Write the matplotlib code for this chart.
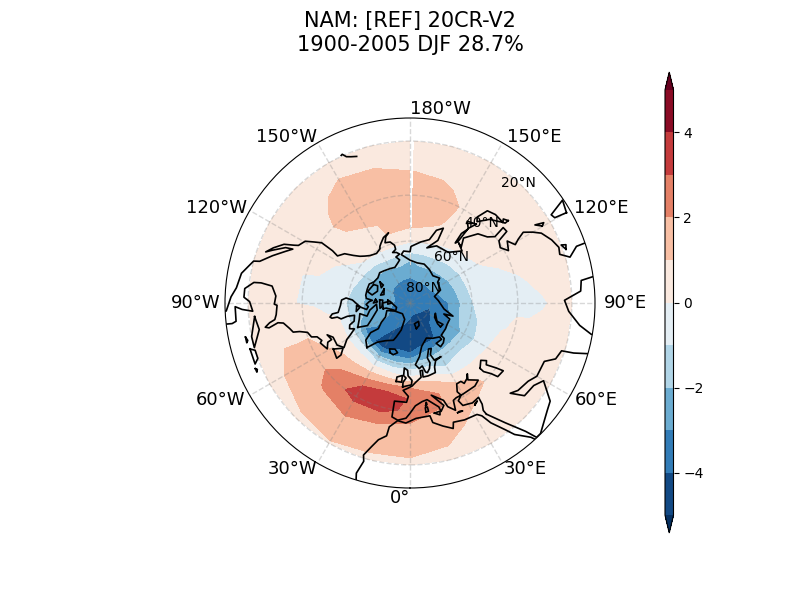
import numpy as np
import matplotlib
matplotlib.use("Agg")
import matplotlib.pyplot as plt

# field on a lat/lon grid
lons = [-180, -165, -150, -135, -120, -105, -90, -75, -60, -45, -30, -15,
        0, 15, 30, 45, 60, 75, 90, 105, 120, 135, 150, 165]
lats = [20, 30, 35, 40, 45, 50, 55, 60, 65, 70, 80, 90]
row_20 = [0.5, 0.6, 0.6, 0.5, 0.4, 0.4, 0.4, 0.6, 0.7, 0.8, 0.9, 0.8, 0.8, 0.7, 0.6, 0.4, 0.4, 0.3, 0.3, 0.3, 0.3, 0.3, 0.3, 0.4]
row_30 = [0.95, 1.1, 1.2, 0.8, 0.5, 0.3, 0.4, 0.9, 1.2, 1.5, 1.9, 1.6, 1.6, 1.3, 0.8, 0.6, 0.5, 0.2, -0.05, 0.2, 0.4, 0.4, 0.5, 0.8]
row_35 = [1.4, 1.5, 1.5, 0.9, 0.5, 0.05, 0.05, 0.8, 1.4, 2.1, 2.3, 2.2, 2.0, 1.5, 1.05, 0.7, 0.5, 0.1, -0.1, 0.05, 0.45, 0.5, 0.7, 1.2]
row_40 = [1.9, 1.8, 1.6, 1.0, 0.5, -0.02, -0.05, 0.8, 1.5, 2.4, 3.5, 3.5, 2.6, 2.1, 1.4, 0.95, 0.5, 0.1, -0.1, -0.02, 0.3, 0.6, 0.85, 1.6]
row_45 = [1.7, 1.7, 1.5, 0.85, 0.4, -0.05, -0.1, 0.5, 1.1, 2.05, 3.0, 3.6, 2.9, 2.15, 1.4, 0.6, 0.35, -0.05, -0.2, -0.15, 0.2, 0.5, 0.75, 1.5]
row_50 = [1.35, 1.2, 0.8, 0.4, 0.1, -0.3, -0.3, 0.3, 0.85, 1.15, 1.6, 2.0, 1.9, 1.5, 0.1, -0.1, -0.3, -0.5, -0.5, -0.3, 0.1, 0.4, 0.75, 1.2]
row_55 = [0.9, 1.05, 0.85, 0.3, -0.05, -0.5, -0.5, 0.1, 0.15, 0.3, 0.1, 0.1, -0.1, -0.2, -1.0, -0.8, -1.05, -0.85, -0.6, -0.45, -0.1, 0.05, 0.3, 0.75]
row_60 = [0.1, 0.3, 0.25, 0.05, -0.2, -0.8, -1.1, -1.1, -1.1, -1.2, -1.9, -1.8, -1.8, -1.5, -1.3, -1.4, -1.7, -1.5, -1.05, -0.8, -0.7, -0.5, -0.15, 0.0]
row_65 = [-0.9, -0.75, -0.7, -1.1, -1.3, -1.5, -1.7, -1.8, -3.1, -3.95, -4.3, -3.7, -3.9, -3.0, -2.9, -2.6, -2.5, -2.0, -1.9, -1.6, -1.4, -1.2, -1.0, -0.9]
row_70 = [-2.1, -1.8, -1.9, -2.1, -2.3, -2.3, -2.4, -2.5, -2.7, -3.6, -4.6, -4.7, -4.6, -4.5, -4.3, -3.5, -3.2, -3.0, -2.9, -2.6, -2.3, -2.0, -1.9, -1.8]
row_80 = [-3.3, -3.3, -3.2, -3.1, -3.0, -2.9, -2.9, -3.0, -3.1, -3.2, -3.5, -3.95, -4.2, -4.4, -4.4, -4.3, -4.2, -4.0, -3.7, -3.4, -3.2, -3.2, -3.2, -3.2]
row_90 = [-3.4] * 24
levels = [-5, -4, -3, -2, -1, 0, 1, 2, 3, 4, 5]

# coastlines, (lon, lat)
america = [(-87.5, 11), (-87.5, 13), (-92, 14.5), (-95, 16), (-100, 17), (-105, 20), (-105.5, 22), (-109, 25.7), (-112.5, 29.5),
           (-114.7, 31.7), (-114, 29), (-111, 25), (-109.5, 23), (-112, 25), (-115, 28), (-116.5, 31.5), (-117.3, 33),
           (-120.5, 34.5), (-122.5, 37.7), (-124.3, 40.4), (-124, 46), (-123, 49), (-127, 51), (-130, 54.5), (-133, 57),
           (-136, 58.5), (-140, 60), (-146, 61), (-151, 60), (-152, 59), (-154, 58), (-158, 56), (-163, 54.8), (-160, 56),
           (-157.5, 58.5), (-162, 59), (-165, 61), (-165, 63), (-161, 64), (-165, 64.5), (-168, 65.6), (-163, 66.5),
           (-166.5, 68.3), (-163, 69.5), (-157, 71), (-150, 70.5), (-141, 69.7), (-135, 69), (-128, 70), (-120, 69.5),
           (-115, 68), (-108, 68), (-100, 68), (-96, 68.5), (-94, 71.5), (-92, 70), (-88, 68.5), (-85, 69.5), (-81.5, 68.5),
           (-85, 66), (-87, 65), (-93, 62), (-94.5, 59), (-92.5, 57), (-88, 56.5), (-82.5, 55.2), (-82, 52.5), (-80, 51.3),
           (-79, 52), (-79, 54.5), (-77, 56), (-78, 59), (-77.5, 62.4), (-72, 61.5), (-70, 59), (-67, 58.3), (-65, 60.3),
           (-62, 57.5), (-60, 55), (-56, 52), (-60, 50), (-66, 50), (-69, 48), (-65, 49), (-64.5, 47), (-61, 45.5), (-66, 44),
           (-67, 45), (-70, 43.7), (-71, 41.5), (-74, 40.5), (-75.5, 37.5), (-76, 35), (-78, 34), (-81, 32), (-81.5, 30),
           (-80, 26.5), (-80.5, 25.2), (-82, 27), (-83, 29), (-85, 29.7), (-89, 30.2), (-89.5, 29.2), (-93, 29.7), (-97, 28),
           (-97.7, 24), (-97.5, 21.5), (-95, 18.7), (-92, 18.6), (-90.5, 20.5), (-87, 21.5), (-87.8, 18), (-88.8, 15.8),
           (-84, 15.8), (-83.4, 14.5), (-83.5, 11)]
africa = [(-16.5, 11), (-17.5, 14.7), (-16.3, 19), (-17, 21), (-15, 24.5), (-13, 27.5), (-10, 29.5), (-9.5, 33), (-6, 35.8),
          (-2, 35.1), (3, 36.9), (10, 37.3), (10.8, 34.5), (15, 32.3), (19, 30.3), (20, 32.5), (25, 31.7), (31, 31.3),
          (32.5, 29.9), (34, 26), (37, 21), (38.5, 18), (42, 14), (43.2, 11)]
eurasia = [(34.5, 29.5), (34.3, 31.3), (35.5, 33.5), (36, 36.5), (32, 36), (30, 36.5), (27.3, 37), (26.3, 39.5), (29, 41),
           (30, 41), (38, 41), (41.5, 42), (37, 44.8), (39, 47), (37, 45.5), (34, 44.5), (33, 46), (30, 46), (28, 43), (29, 41),
           (26, 41), (24, 40.5), (23, 36.5), (20, 39), (19, 42), (13, 45.5), (18.3, 40), (16, 38), (15.5, 40), (10, 44),
           (7, 43.5), (3, 42), (0, 39), (-2, 37), (-6, 36), (-9, 37), (-9, 43.5), (-2, 43.5), (-1, 46), (-4.5, 48.5),
           (-1.5, 49.5), (1.5, 50.5), (4, 52), (8.5, 54), (8.5, 57), (10.5, 57), (10, 54), (14, 54), (20, 54.5), (21, 57),
           (24, 59.5), (30, 60), (23, 60), (21.5, 63), (25, 65.5), (22, 65.8), (17.5, 62), (18.5, 59.5), (16.5, 57), (14, 55.5),
           (12.7, 56), (11, 59), (8, 58), (5, 60), (10, 63.5), (15, 68), (25, 71), (33, 69.4), (41, 68), (41, 66.5), (33, 66.5),
           (35, 64), (40, 64.7), (44, 66), (44, 68), (54, 68.5), (60, 69), (68, 69), (72, 72.5), (73, 68), (80, 73), (95, 76),
           (105, 77.5), (113, 73.7), (127, 73), (130, 71), (140, 72.5), (150, 71), (160, 69.7), (170, 70), (180, 69),
           (190.2, 66), (187, 64.5), (180, 65), (179, 62.5), (170, 60), (163, 58), (160, 53), (156, 51), (156, 57), (163, 62),
           (155, 59.5), (143, 59.3), (135, 54.7), (141, 53), (137.5, 53.7), (140.5, 50), (135.5, 44.5), (130.5, 42.5), (128, 40),
           (129, 35.2), (126.5, 35), (125, 39.7), (121.5, 40.8), (118, 38.5), (122.5, 37), (119, 35), (120.5, 33), (122, 30),
           (120, 27), (118, 24.5), (114, 22.3), (110.5, 21), (108, 21.5), (106, 18.5), (108.8, 15.5), (109, 11)]
arabia_india = [(34.5, 29.5), (38.5, 23), (42, 16.5), (43.3, 12.8), (45, 12.8), (52, 16), (55, 17), (59.8, 22.5), (56.3, 24.5),
                (51, 25), (48, 29.5), (51, 28), (56.5, 27), (60, 25.3), (66.5, 25.3), (69, 22), (72.5, 21), (73, 17), (74.5, 11)]
india_east = [(80.2, 11), (80.2, 13), (82.5, 17), (87, 21), (91, 22.5), (94, 17), (97.5, 16.5), (98.5, 11)]
caspian = [(47, 45), (51, 47), (53, 45), (51, 44), (53, 40), (54, 37), (50, 37.3), (49, 40), (47, 43), (47, 45)]
greenland = [(-44, 60), (-50, 62), (-53, 66), (-51, 70), (-56, 73), (-60, 76), (-72, 78), (-62, 81.5), (-35, 83.5), (-18, 81.5),
             (-18, 76), (-22, 72), (-24, 70), (-33, 68), (-40, 65), (-44, 60)]
iceland = [(-22, 64), (-24, 65.5), (-18, 66.3), (-14, 65), (-18, 63.5), (-22, 64)]
britain = [(-5, 50), (1, 51), (1.5, 53), (-1.5, 55), (-2, 57.5), (-5, 58.5), (-5, 55), (-3, 54), (-5, 52), (-5, 50)]
ireland = [(-10, 52), (-6, 52), (-6, 55), (-10, 54), (-10, 52)]
baffin = [(-65, 62), (-62, 66.5), (-68, 70), (-78, 73.5), (-88, 73.5), (-80, 70), (-73, 68), (-78, 65), (-72, 64), (-65, 62)]
ellesmere = [(-78, 76.5), (-90, 76.5), (-95, 80), (-72, 83), (-62, 82), (-78, 78), (-78, 76.5)]
victoria = [(-117, 70), (-105, 68.5), (-102, 71), (-110, 73), (-118, 72), (-117, 70)]
banks = [(-125, 72), (-118, 74), (-124, 74.2), (-125, 72)]
melville = [(-118, 75.5), (-105, 75), (-108, 76.5), (-118, 75.5)]
devon = [(-96, 75), (-80, 75), (-82, 76), (-96, 76.5), (-96, 75)]
somerset = [(-96, 73), (-90, 72), (-92, 74), (-96, 73)]
axel = [(-97, 79), (-87, 79), (-90, 81), (-97, 79)]
southampton = [(-87, 64), (-81, 63.5), (-85, 65.5), (-87, 64)]
newfoundland = [(-59, 47.7), (-53, 46.7), (-53, 49), (-56, 51.5), (-59, 47.7)]
cuba = [(-85, 22), (-80, 23), (-74, 20), (-78, 20), (-85, 22)]
hispaniola = [(-74, 18.5), (-68.5, 18.5), (-70, 20), (-73, 20), (-74, 18.5)]
jamaica = [(-78.3, 18), (-76.3, 18), (-77, 18.5), (-78.3, 18)]
puerto_rico = [(-67, 18), (-65.7, 18), (-66.5, 18.5), (-67, 18)]
svalbard = [(14, 77), (22, 78), (25, 80), (12, 79.5), (14, 77)]
novaya = [(52, 71), (57, 70.7), (56, 74), (68, 76.5), (60, 76), (53, 73), (52, 71)]
sakhalin = [(142, 46), (143.5, 49), (143, 54), (142, 53), (142, 46)]
hokkaido = [(140, 42), (145, 43.3), (142, 45.5), (140, 42)]
honshu = [(131, 34), (136, 34), (140, 35), (142, 39.5), (140.5, 41), (136.5, 37), (131, 34)]
kyushu = [(130, 32), (132, 33), (131, 34), (130, 33.5), (130, 32)]
taiwan = [(120.2, 23), (121, 22), (122, 25), (120.2, 23)]
luzon = [(120, 14), (124, 13), (122, 18.5), (120.5, 18), (120, 14)]
hainan = [(109, 19), (110.5, 18.5), (111, 20), (109, 19)]
sicily = [(12.5, 38), (15.5, 38.2), (15, 36.8), (12.5, 38)]
sardinia = [(8.3, 39), (9.7, 39.2), (9.5, 41), (8.3, 40.8), (8.3, 39)]
corsica = [(8.7, 41.6), (9.5, 42), (9.3, 43), (8.7, 41.6)]
crete = [(23.5, 35.3), (26, 35.1), (24.5, 35.5), (23.5, 35.3)]
cyprus = [(32.5, 34.8), (34.5, 35.6), (33, 35.3), (32.5, 34.8)]
hawaii = [(-160, 22), (-158, 21.4), (-156.5, 20.8), (-155.5, 19.5), (-155, 19.7)]
coasts = [america, africa, eurasia, arabia_india, india_east, caspian, greenland, iceland, britain, ireland, baffin, ellesmere,
          victoria, banks, melville, devon, somerset, axel, southampton, newfoundland, cuba, hispaniola, jamaica, puerto_rico,
          svalbard, novaya, sakhalin, hokkaido, honshu, kyushu, taiwan, luzon, hainan, sicily, sardinia, corsica,
          crete, cyprus, hawaii]

grid_lats = [20, 40, 60, 80]
grid_lons = [0, 30, 60, 90, 120, 150, 180, 210, 240, 270, 300, 330]
# text, lon, ha, va, x offset, y offset (points)
lon_labels = [("0°", 0, "right", "top", 0, -1), ("30°E", 30, "left", "top", 1, 2.5), ("60°E", 60, "left", "center", 3, -3),
              ("90°E", 90, "left", "center", 6.5, 0), ("120°E", 120, "left", "center", 3, 1.5), ("150°E", 150, "left", "bottom", 3, -2),
              ("180°W", 180, "left", "bottom", 0, 0), ("150°W", -150, "right", "bottom", 0, -2), ("120°W", -120, "right", "center", -2, 1.5),
              ("90°W", -90, "right", "center", -3.5, 0), ("60°W", -60, "right", "center", -3, -3), ("30°W", -30, "right", "top", 0, 2.5)]


def to_r(lat):
    # north polar stereographic radius
    return np.tan(np.radians(90 - np.asarray(lat, dtype=float)) / 2)


field = np.array([row_20, row_30, row_35, row_40, row_45, row_50, row_55, row_60, row_65, row_70, row_80, row_90])
# no wrap across the dateline, the seam stays open as in the original
field = np.hstack([field, field[:, :1]])
lon_edge = np.array(lons + [178.5])

fig = plt.figure(figsize=(8, 6), dpi=100)
ax = fig.add_axes([225 / 800, 112 / 600, 370 / 800, 370 / 600], projection="polar")
ax.set_theta_zero_location("S")
ax.set_theta_direction(1)

cf = ax.contourf(np.radians(lon_edge), to_r(lats), field, levels=levels, cmap="RdBu_r", extend="both")

for coast in coasts:
    c = np.array(coast)
    ax.plot(np.radians(c[:, 0]), to_r(c[:, 1]), color="k", lw=1.2)

ax.set_rlim(0, 0.80)
ax.set_xticks(np.radians(grid_lons))
ax.set_xticklabels([])
ax.set_yticks(to_r(grid_lats))
ax.set_yticklabels([])
ax.grid(True, color="gray", alpha=0.3, ls="--", lw=1)

for la in grid_lats:
    ax.text(np.radians(138), to_r(la), "%d°N" % la, fontsize=10, ha="center", va="center")
for txt, lo, ha, va, ox, oy in lon_labels:
    ax.annotate(txt, xy=(np.radians(lo), 0.80), xytext=(ox, oy), textcoords="offset points",
                fontsize=13, ha=ha, va=va, annotation_clip=False)

fig.text(410 / 800, 1 - 33 / 600, "NAM: [REF] 20CR-V2\n1900-2005 DJF 28.7%", fontsize=15, ha="center", va="center")

cax = fig.add_axes([665 / 800, 67 / 600, 8.5 / 800, 461 / 600])
cb = fig.colorbar(cf, cax=cax, extendfrac=0.042)
cb.set_ticks([-4, -2, 0, 2, 4])
cb.ax.tick_params(labelsize=10)

plt.savefig("out.png", dpi=100)
plt.close()
